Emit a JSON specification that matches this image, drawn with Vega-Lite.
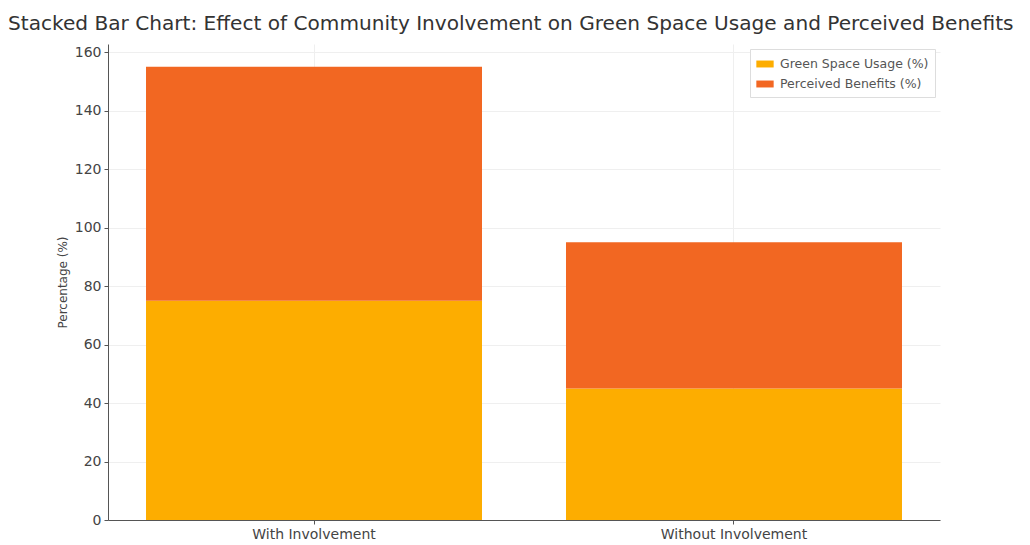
{
  "$schema": "https://vega.github.io/schema/vega-lite/v6.json",
  "autosize": {"type": "none"},
  "padding": {"left": 108, "top": 44, "right": 90, "bottom": 25},
  "width": 832,
  "height": 476,
  "background": "white",
  "title": {
    "text": "Stacked Bar Chart: Effect of Community Involvement on Green Space Usage and Perceived Benefits",
    "anchor": "start",
    "frame": "group",
    "dx": -100,
    "offset": 10,
    "font": "DejaVu Sans",
    "fontSize": 20.1,
    "fontWeight": "normal",
    "color": "#333333"
  },
  "data": {
    "values": [
      {"Condition": "With Involvement", "Metric": "Green Space Usage (%)", "Value": 75},
      {"Condition": "With Involvement", "Metric": "Perceived Benefits (%)", "Value": 80},
      {"Condition": "Without Involvement", "Metric": "Green Space Usage (%)", "Value": 45},
      {"Condition": "Without Involvement", "Metric": "Perceived Benefits (%)", "Value": 50}
    ]
  },
  "mark": {"type": "bar"},
  "encoding": {
    "x": {
      "field": "Condition",
      "type": "nominal",
      "sort": null,
      "scale": {"paddingInner": 0.2, "paddingOuter": 0.0905},
      "axis": {
        "title": null,
        "labelAngle": 0,
        "labelFont": "DejaVu Sans",
        "labelFontSize": 14,
        "labelColor": "#444444",
        "labelPadding": 3,
        "tickSize": 4,
        "tickColor": "#555555",
        "domainColor": "#555555",
        "grid": true,
        "gridColor": "#efefef",
        "gridWidth": 1
      }
    },
    "y": {
      "field": "Value",
      "type": "quantitative",
      "stack": "zero",
      "scale": {"domain": [0, 162.75], "nice": false},
      "axis": {
        "title": "Percentage (%)",
        "values": [0, 20, 40, 60, 80, 100, 120, 140, 160],
        "titleFont": "DejaVu Sans",
        "titleFontSize": 12,
        "titleFontWeight": "normal",
        "titleColor": "#444444",
        "titlePadding": 5,
        "labelFont": "DejaVu Sans",
        "labelFontSize": 14,
        "labelColor": "#444444",
        "labelPadding": 3,
        "tickSize": 4,
        "tickColor": "#555555",
        "domainColor": "#555555",
        "grid": true,
        "gridColor": "#efefef",
        "gridWidth": 1
      }
    },
    "color": {
      "field": "Metric",
      "type": "nominal",
      "scale": {
        "domain": ["Green Space Usage (%)", "Perceived Benefits (%)"],
        "range": ["#FDAD00", "#F26722"]
      },
      "legend": {
        "title": null,
        "orient": "top-right",
        "offset": 5,
        "symbolType": "M-1,-0.4L1,-0.4L1,0.4L-1,0.4Z",
        "symbolSize": 300,
        "symbolStrokeWidth": 0,
        "labelFont": "DejaVu Sans",
        "labelFontSize": 12.5,
        "labelColor": "#555555",
        "labelOffset": 6,
        "fillColor": "white",
        "strokeColor": "#dddddd",
        "padding": 6,
        "rowPadding": 4
      }
    },
    "order": {"field": "Metric", "sort": "ascending"}
  },
  "config": {
    "view": {"stroke": null}
  }
}
